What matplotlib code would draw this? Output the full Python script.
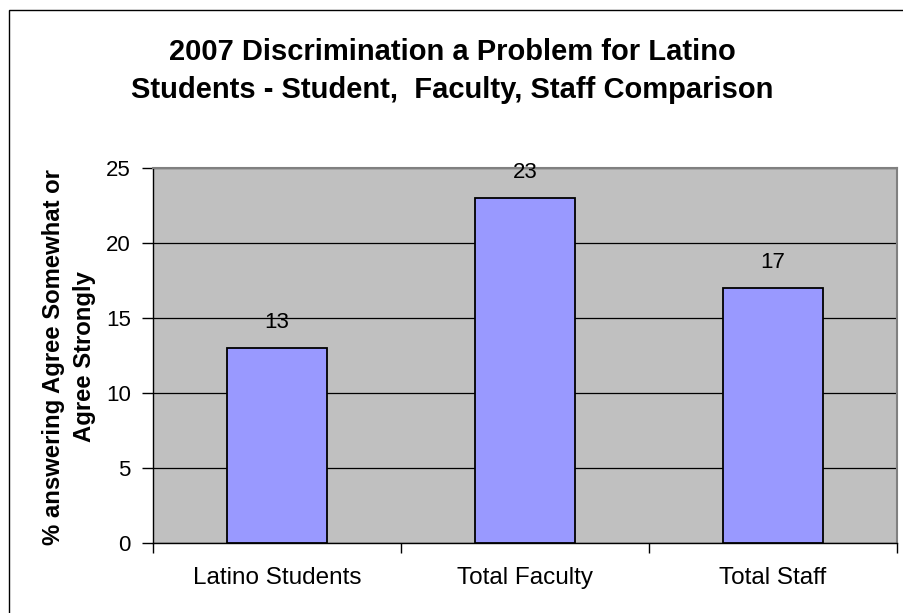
import matplotlib
matplotlib.use("Agg")
import matplotlib.pyplot as plt
from matplotlib.patches import Rectangle

categories = ["Latino Students", "Total Faculty", "Total Staff"]
values = [13, 23, 17]
yticks = [0, 5, 10, 15, 20, 25]
title = "2007 Discrimination a Problem for Latino\nStudents - Student,  Faculty, Staff Comparison"
ylabel = "% answering Agree Somewhat or\nAgree Strongly"

plt.rcParams['font.family'] = ['Liberation Sans', 'DejaVu Sans']

W, H = 904, 613
fig = plt.figure(figsize=(W / 100, H / 100), dpi=100)
fig.patch.set_facecolor("white")

# outer chart border (extends past right/bottom edges)
fig.add_artist(Rectangle((9 / W, -0.1), 1.2, 1 - 10 / H + 0.1, transform=fig.transFigure,
                         fill=False, edgecolor="black", linewidth=1.0))

ax = fig.add_axes([153 / W, (H - 543) / H, (897 - 153) / W, (543 - 168) / H])
ax.set_facecolor("#C0C0C0")
x = list(range(len(categories)))
ax.bar(x, values, width=0.4, color="#9999FF", edgecolor="black", linewidth=1.3, zorder=3)
ax.set_xlim(-0.5, len(categories) - 0.5)
ax.set_ylim(0, 25)
ax.set_yticks(yticks)
ax.set_yticklabels([str(t) for t in yticks], fontsize=16)
ax.yaxis.grid(True, color="black", linewidth=0.9, zorder=1)
ax.set_axisbelow(True)

ax.set_xticks(x)
ax.set_xticklabels(categories, fontsize=17.5)
ax.tick_params(axis="x", which="major", length=0, pad=17.5)
ax.set_xticks([i - 0.5 for i in range(len(categories) + 1)], minor=True)
ax.tick_params(axis="x", which="minor", length=7, width=1, color="black")
ax.tick_params(axis="y", length=8, width=1, pad=8)

for s in ["top", "right"]:
    ax.spines[s].set_color("#808080")
    ax.spines[s].set_linewidth(1.5)
ax.spines["left"].set_color("black")
ax.spines["bottom"].set_color("black")
ax.spines["left"].set_linewidth(1.0)
ax.spines["bottom"].set_linewidth(1.0)

for xi, v in zip(x, values):
    ax.annotate(str(v), (xi, v), xytext=(0, 18), textcoords="offset points",
                ha="center", va="center", fontsize=16)

fig.text(0.5, 1 - 71 / H, title, ha="center", va="center", fontsize=21,
         fontweight="bold", linespacing=1.5)
fig.text(69 / W, 1 - 357 / H, ylabel, ha="center", va="center", rotation=90,
         fontsize=17.2, fontweight="bold", linespacing=1.4, multialignment="center")

fig.savefig("out.png", dpi=100)
